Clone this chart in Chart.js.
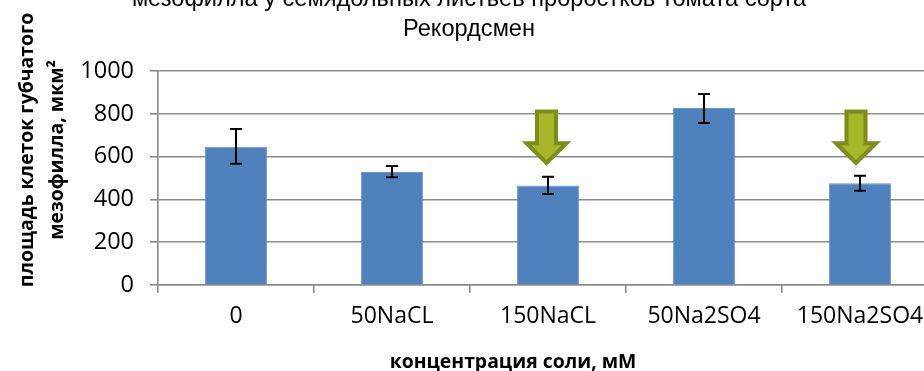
<!DOCTYPE html>
<html><head><meta charset="utf-8">
<style>html,body{margin:0;padding:0;background:#fff;overflow:hidden;width:924px;height:371px}
#w{position:absolute;left:0;top:0;width:924px;height:371px;overflow:hidden}
#c{position:absolute;left:0;top:-20px}</style>
<script src="https://cdn.jsdelivr.net/npm/chart.js@4"></script>
</head><body><div id="w"><canvas id="c" width="944" height="391"></canvas></div>
<script>
const categories=['0','50NaCL','150NaCL','50Na2SO4','150Na2SO4'];
const values=[646,528,465,827,475];
const errHigh=[729,556,506,893,511];
const errLow=[567,503,425,757,441];
const yTicks=[0,200,400,600,800,1000];
const arrowCategories=[2,4];
const arrowShift=[-1.5,-4];
const arrowTop=[818,818];
const arrowHead=[663,663];
const arrowTip=[556,556];
const titleLines=['мезофилла у семядольных листьев проростков томата сорта','Рекордсмен'];
const yTitleLines=['площадь клеток губчатого','мезофилла, мкм²'];
const xTitle='концентрация соли, мМ';
const T=20;
const marks={id:'marks',afterDatasetsDraw(ch){
 const c=ch.ctx,x=ch.scales.x,y=ch.scales.y;
 c.save();c.strokeStyle='#000';c.lineWidth=2;
 categories.forEach((n,i)=>{const px=Math.round(x.getPixelForValue(i)),a=y.getPixelForValue(errHigh[i]),b=y.getPixelForValue(errLow[i]);
  c.beginPath();c.moveTo(px,a);c.lineTo(px,b);c.moveTo(px-6,a);c.lineTo(px+6,a);c.moveTo(px-6,b);c.lineTo(px+6,b);c.stroke();});
 arrowCategories.forEach((k,i)=>{const px=x.getPixelForValue(k)+arrowShift[i],t=y.getPixelForValue(arrowTop[i]),h=y.getPixelForValue(arrowHead[i]),e=y.getPixelForValue(arrowTip[i]);
  c.beginPath();c.moveTo(px-9.5,t+1.5);c.lineTo(px+9.5,t+1.5);c.lineTo(px+9.5,h);c.lineTo(px+20,h);c.lineTo(px,e-3);c.lineTo(px-20,h);c.lineTo(px-9.5,h);c.closePath();
  c.fillStyle='#A6B727';c.fill();c.strokeStyle='#7E8C1A';c.lineWidth=4;c.lineJoin='miter';c.stroke();});
 c.restore();
 c.save();c.fillStyle='#000';c.font='bold 19.4px "Open Sans"';c.textAlign='center';c.textBaseline='alphabetic';
 c.fillText(xTitle,513,368+T);
 c.translate(0,150+T);c.rotate(-Math.PI/2);
 c.fillText(yTitleLines[0],0,33);c.fillText(yTitleLines[1],0,63);
 c.restore();
}};
new Chart(document.getElementById('c'),{type:'bar',
 data:{labels:categories,datasets:[{data:values,backgroundColor:'#4F81BD',borderColor:'#6C96C9',borderWidth:1,barPercentage:1,categoryPercentage:.4}]},
 plugins:[marks],
 options:{responsive:false,animation:false,
  layout:{padding:{left:0,right:6,top:0,bottom:0}},
  plugins:{legend:{display:false},tooltip:{enabled:false},
   title:{display:true,text:titleLines,color:'#000',font:{family:'"Liberation Sans"',size:23.6,weight:'normal',lineHeight:1.28},padding:{top:4,bottom:26.6}}},
  scales:{
   x:{afterFit(s){s.height=86},grid:{drawOnChartArea:false,color:'#8A8A8A',lineWidth:1.6,tickLength:8},border:{color:'#8A8A8A',width:1.6},
      ticks:{color:'#000',font:{family:'"Open Sans"',size:23},padding:10,maxRotation:0,autoSkip:false}},
   y:{min:0,max:1000,afterFit(s){s.width=158},afterBuildTicks(s){s.ticks=yTicks.map(v=>({value:v}))},grid:{color:'#8A8A8A',lineWidth:1.6,tickLength:8},border:{color:'#8A8A8A',width:1.6},
      ticks:{color:'#000',font:{family:'"Open Sans"',size:23.5},padding:16,callback:v=>String(v)}}
  }}});
</script></body></html>
